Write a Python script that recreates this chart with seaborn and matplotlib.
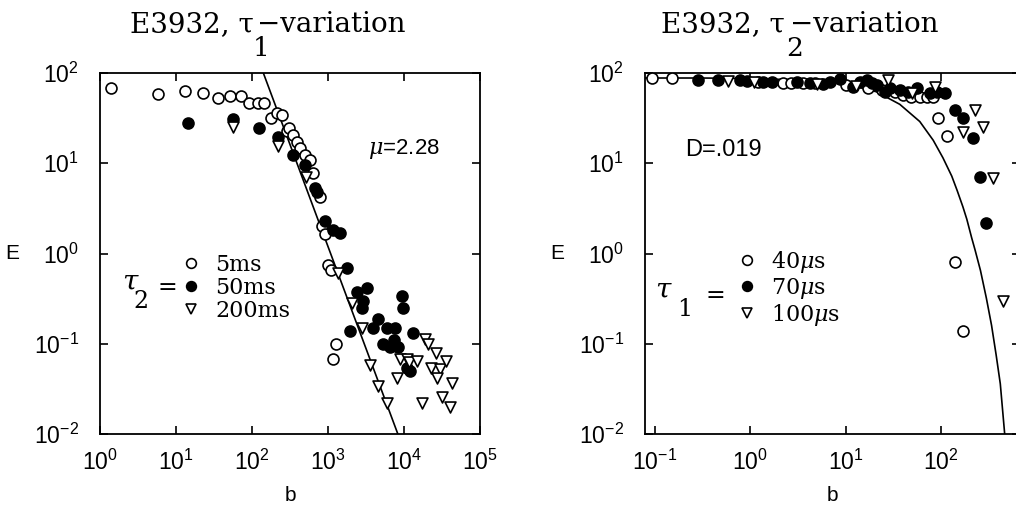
import numpy as np
import pandas as pd
import matplotlib
matplotlib.use("Agg")
import matplotlib.pyplot as plt
import seaborn as sns
from matplotlib.lines import Line2D
from matplotlib.ticker import LogLocator, NullLocator

# ---------------- data: left panel (tau1 variation) ----------------
b_5ms = [1.4, 5.8, 13, 23, 36, 52, 72, 92, 120, 145, 178, 213, 247, 290, 308,
         347, 390, 427, 500, 580, 635, 780, 830, 910, 1000, 1100, 1260, 1170]
E_5ms = [68, 58, 63, 60, 53, 55, 55, 47, 46, 46, 32, 36, 34, 23, 24.5,
         20.5, 17, 14.7, 12.3, 10.8, 7.7, 4.2, 2.0, 1.66, 0.74, 0.66, 0.10, 0.068]

b_50ms = [14.5, 56, 124, 220, 347, 500, 680, 720, 910, 1170, 1440, 1780, 2400,
          3240, 2900, 2800, 1950, 4600, 3900, 6000, 7600, 9300, 9800, 13000,
          5300, 6600, 7300, 8300, 11000, 12000]
E_50ms = [27.8, 31, 24.6, 19.5, 12.3, 9.5, 5.3, 4.8, 2.3, 1.8, 1.67, 0.69, 0.37,
          0.41, 0.30, 0.25, 0.14, 0.19, 0.15, 0.15, 0.15, 0.34, 0.25, 0.13,
          0.10, 0.092, 0.11, 0.092, 0.054, 0.05]

b_200ms = [56, 220, 520, 1350, 2070, 2800, 3550, 4600, 6000, 8100, 8900, 11000,
           11500, 17000, 19000, 21000, 26000, 23000, 30000, 36000, 27000,
           43000, 32000, 40000, 15000]
E_200ms = [25, 15.5, 7.0, 0.61, 0.28, 0.15, 0.058, 0.034, 0.022, 0.042, 0.068,
           0.068, 0.062, 0.022, 0.114, 0.10, 0.078, 0.054, 0.052, 0.065, 0.042,
           0.037, 0.026, 0.020, 0.065]

# power law fit (mu = 2.28), end points
fit1_b = [141, 8300]
fit1_E = [100, 0.01]

# ---------------- data: right panel (tau2 variation) ----------------
b_40us = [0.093, 0.15, 1.2, 2.2, 2.7, 3.6, 4.8, 10.2, 17, 24, 33, 40, 49, 60,
          71, 82, 94, 115, 141, 170]
E_40us = [88, 88, 79, 77, 77, 77, 77, 74, 68, 65, 62, 57, 54, 54,
          54, 54, 32, 20, 0.8, 0.14]

b_70us = [0.28, 0.46, 0.78, 0.92, 1.36, 1.7, 3.1, 4.2, 5.8, 6.9, 8.7, 11.9, 14,
          16.7, 19, 21.6, 26, 29.5, 37, 45, 56, 77, 91, 110, 140, 170, 218,
          258, 297]
E_70us = [84, 84, 84, 81, 80, 80, 80, 78, 76, 79, 86, 70, 79,
          84, 77, 74, 62, 68, 65, 62, 68, 60, 62, 60, 39, 32, 19,
          7.0, 2.2]

b_100us = [0.58, 1.1, 5, 13, 28, 50, 86, 170, 228, 276, 352, 450]
E_100us = [81, 79, 76, 72, 84, 60, 70, 22, 39, 25, 6.8, 0.30]

# exponential fit curve (D = .019)
fit2_b = [0.078, 0.3, 1, 3, 10, 21, 37, 60, 83, 105, 130, 148, 170, 187, 210,
          228, 260, 300, 340, 380, 420, 467]
fit2_E = [88, 88, 87, 84, 76, 62, 45, 29, 18, 11.5, 7.2, 5.0, 3.3, 2.4, 1.5,
          1.1, 0.65, 0.32, 0.16, 0.075, 0.036, 0.01]

left_labels = ["5ms", "50ms", "200ms"]
right_labels = [r"40$\mu$s", r"70$\mu$s", r"100$\mu$s"]

# ---------------- style ----------------
sns.set_style("ticks")
plt.rcParams["font.family"] = ["Liberation Sans", "DejaVu Sans"]
plt.rcParams["mathtext.fontset"] = "custom"
plt.rcParams["mathtext.rm"] = "Liberation Sans"
plt.rcParams["mathtext.it"] = "DejaVu Serif:italic"
plt.rcParams["axes.linewidth"] = 1.3
plt.rcParams["text.color"] = "black"
plt.rcParams["axes.labelcolor"] = "black"

W, H = 1016, 505
fig = plt.figure(figsize=(W / 100, H / 100), dpi=100)


def px_axes(x0, x1, y0, y1):
    return fig.add_axes([x0 / W, 1 - y1 / H, (x1 - x0) / W, (y1 - y0) / H])


ax1 = px_axes(100, 480, 73, 434)
ax2 = px_axes(645, 1020, 73, 434)

ms = 62
styles = [dict(marker="o", facecolor="white"),
          dict(marker="o", facecolor="black"),
          dict(marker="v", facecolor="white")]


def draw(ax, series):
    for (bx, ey), st in zip(series, styles):
        df = pd.DataFrame({"b": bx, "E": ey})
        sns.scatterplot(data=df, x="b", y="E", ax=ax, marker=st["marker"],
                        s=ms, facecolor=st["facecolor"], edgecolor="black",
                        linewidth=1.2, zorder=3, legend=False)


draw(ax1, [(b_5ms, E_5ms), (b_50ms, E_50ms), (b_200ms, E_200ms)])
draw(ax2, [(b_40us, E_40us), (b_70us, E_70us), (b_100us, E_100us)])

sns.lineplot(x=fit1_b, y=fit1_E, ax=ax1, color="black", lw=1.2,
             estimator=None, sort=False, zorder=2)
sns.lineplot(x=fit2_b, y=fit2_E, ax=ax2, color="black", lw=1.2,
             estimator=None, sort=False, zorder=2)

for ax in (ax1, ax2):
    ax.set_xscale("log")
    ax.set_yscale("log")
    ax.set_ylim(1e-2, 1e2)
    ax.yaxis.set_major_locator(LogLocator(base=10, numticks=10))
    ax.xaxis.set_minor_locator(NullLocator())
    ax.yaxis.set_minor_locator(NullLocator())
    ax.tick_params(which="major", direction="in", length=6, width=1.2,
                   top=True, right=True, labelsize=16.5, colors="black")
    ax.tick_params(axis="x", pad=11)
    ax.tick_params(axis="y", pad=15)
    ax.set_xlabel("b", fontsize=15, labelpad=8)
    ax.set_ylabel("E", fontsize=15, rotation=0, labelpad=16, va="center")
    for sp in ax.spines.values():
        sp.set_color("black")

ax1.set_xlim(1, 1e5)
ax2.set_xlim(10 ** -1.105, 10 ** 2.83)
ax1.xaxis.set_major_locator(LogLocator(base=10, numticks=10))
ax2.xaxis.set_major_locator(LogLocator(base=10, numticks=10))

# annotations
ax1.text(0.80, 0.79, r"$\mu$=2.28", transform=ax1.transAxes, fontsize=16,
         ha="center", va="center")
ax2.text(0.21, 0.787, "D=.019", transform=ax2.transAxes, fontsize=17,
         ha="center", va="center")

# legends
serif = ["DejaVu Serif"]


def make_legend(ax, labels, x, y):
    handles = [Line2D([], [], ls="none", marker=st["marker"], markersize=7,
                      markerfacecolor=st["facecolor"], markeredgecolor="black",
                      markeredgewidth=1.2) for st in styles]
    leg = ax.legend(handles, labels, loc="center left", bbox_to_anchor=(x, y),
                    frameon=False, handlelength=0.7, handletextpad=0.75,
                    labelspacing=0.05, borderpad=0, borderaxespad=0,
                    prop=dict(family=serif, size=16))
    return leg


make_legend(ax1, left_labels, 0.218, 0.404)
make_legend(ax2, right_labels, 0.25, 0.404)

# "tau_n =" beside legends
fig.text(130 / W, 1 - 282 / H, "τ", fontsize=20, family=serif, style="italic",
         ha="center", va="center")
fig.text(141 / W, 1 - 302 / H, "2", fontsize=17, family=serif, ha="center", va="center")
fig.text(167 / W, 1 - 287 / H, "=", fontsize=17, family=serif, ha="center", va="center")
fig.text(663 / W, 1 - 290 / H, "τ", fontsize=20, family=serif, style="italic",
         ha="center", va="center")
fig.text(685 / W, 1 - 310 / H, "1", fontsize=17, family=serif, ha="center", va="center")
fig.text(715 / W, 1 - 296 / H, "=", fontsize=17, family=serif, ha="center", va="center")

# titles with offset subscripts
fig.text(254 / W, 1 - 25 / H, "E3932, τ", fontsize=20, family=serif,
         ha="right", va="center")
fig.text(257 / W, 1 - 25 / H, "\u2212variation", fontsize=20, family=serif,
         ha="left", va="center")
fig.text(261 / W, 1 - 49 / H, "1", fontsize=19, family=serif, ha="center", va="center")
fig.text(785 / W, 1 - 25 / H, "E3932, τ", fontsize=20, family=serif,
         ha="right", va="center")
fig.text(790 / W, 1 - 25 / H, "\u2212variation", fontsize=20, family=serif,
         ha="left", va="center")
fig.text(795 / W, 1 - 49 / H, "2", fontsize=19, family=serif, ha="center", va="center")

fig.savefig("out.png", dpi=100)
